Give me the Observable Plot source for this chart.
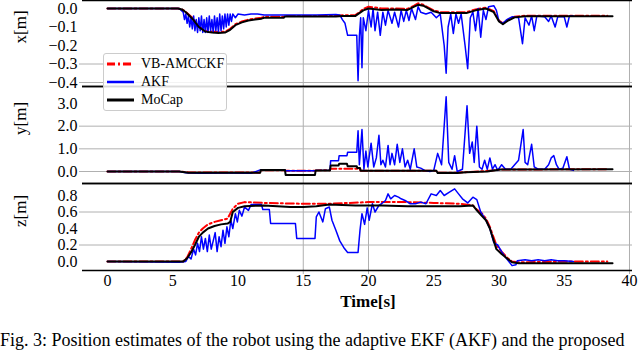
<!DOCTYPE html>
<html><head><meta charset="utf-8">
<script src="https://cdn.jsdelivr.net/npm/d3@7"></script>
<script src="https://cdn.jsdelivr.net/npm/@observablehq/plot@0.6"></script>
<style>
body{margin:0;background:#fff;}
#wrap{position:relative;width:640px;height:351px;overflow:hidden;font-family:"Liberation Serif",serif;color:#000;}
#wrap svg, #wrap svg text, #wrap svg g{font-family:"Liberation Serif",serif !important;}
.panel{position:absolute;left:0;}
#legend{position:absolute;left:103px;top:53px;width:122px;height:56px;border:1px solid #cccccc;border-radius:3px;background:rgba(255,255,255,0.85);}
#legend .row{position:absolute;left:3px;height:18px;display:flex;align-items:center;font-size:14px;white-space:nowrap;}
#legend svg{margin-right:7px;flex:none;}
#xlabel{position:absolute;left:0;width:736px;top:292px;text-align:center;font-weight:bold;font-size:17px;}
#caption{position:absolute;left:0;top:331px;white-space:nowrap;font-size:18px;line-height:18px;}
</style></head><body><div id="wrap"></div><script>
// ---------- data ----------
const seriesNames = ["VB-AMCCKF", "AKF", "MoCap"];
const xTicks = [0, 5, 10, 15, 20, 25, 30, 35, 40];
const gridX = [15, 20, 40];
const xLabel = "Time[s]";
const caption = "Fig. 3: Position estimates of the robot using the adaptive EKF (AKF) and the proposed";

// x [m]
const xPanelTicks = [0.0, -0.1, -0.2, -0.3, -0.4];
const xPanelGrid = [-0.3, -0.4];
const mocapX_t = [0, 5.4, 5.7, 6.0, 6.5, 7.0, 7.5, 8.0, 8.5, 9.0, 9.4, 9.8, 10.3, 10.8, 11.3, 11.8, 12.0, 13.5, 13.6, 17.5, 18.0, 19.0, 19.3, 19.6, 20.0, 21, 22, 23, 23.5, 23.8, 24.2, 25.0, 25.5, 27.5, 28.2, 29.0, 29.6, 30.0, 30.3, 30.7, 31.2, 32, 35, 38.7];
const mocapX_v = [0, 0, -0.005, -0.02, -0.055, -0.1, -0.125, -0.13, -0.132, -0.13, -0.115, -0.09, -0.075, -0.065, -0.06, -0.055, -0.05, -0.05, -0.043, -0.043, -0.04, -0.04, -0.025, -0.01, 0.0, -0.008, -0.006, -0.008, 0.01, 0.02, 0.015, -0.015, -0.025, -0.025, -0.01, 0.0, -0.02, -0.07, -0.085, -0.065, -0.048, -0.042, -0.042, -0.042];
const vbX_t = [0, 5.4, 5.7, 6.0, 6.5, 7.0, 7.5, 8.0, 8.5, 9.0, 9.4, 9.8, 10.3, 10.8, 11.3, 11.8, 12.0, 13.5, 13.6, 17.5, 18.0, 19.0, 19.3, 19.6, 20.0, 21, 22, 23, 23.5, 23.8, 24.2, 25.0, 25.5, 27.5, 28.2, 29.0, 29.6, 30.0, 30.3, 30.7, 31.2, 32, 35, 38.3];
const vbX_v = [0, 0, -0.004, -0.018, -0.05, -0.095, -0.12, -0.125, -0.127, -0.125, -0.11, -0.085, -0.07, -0.06, -0.055, -0.05, -0.045, -0.045, -0.04, -0.04, -0.036, -0.036, -0.02, -0.002, 0.01, 0.0, 0.0, -0.002, 0.015, 0.028, 0.02, -0.01, -0.02, -0.02, -0.005, 0.005, -0.015, -0.065, -0.08, -0.06, -0.044, -0.039, -0.039, -0.039];
const akfX_t = [0, 5.5, 5.8, 5.9, 6.0, 6.1, 6.2, 6.3, 6.4, 6.5, 6.6, 6.7, 6.8, 6.9, 7.0, 7.1, 7.2, 7.3, 7.4, 7.5, 7.6, 7.7, 7.8, 7.9, 8.0, 8.1, 8.2, 8.3, 8.4, 8.5, 8.6, 8.7, 8.8, 8.9, 9.0, 9.1, 9.2, 9.3, 9.4, 9.5, 9.6, 9.8, 10.0, 10.5, 11.0, 11.5, 12, 14, 16, 17.5, 17.8, 18.0, 18.2, 18.4, 19.1, 19.2, 19.3, 19.4, 19.5, 19.6, 19.8, 20.0, 20.2, 20.35, 20.5, 20.7, 20.9, 21.1, 21.3, 21.5, 21.8, 22.0, 22.3, 22.5, 22.7, 22.9, 23.1, 23.3, 23.6, 23.8, 24.0, 24.4, 24.8, 25.2, 25.5, 25.8, 25.95, 26.1, 26.3, 26.5, 26.7, 26.9, 27.1, 27.4, 27.6, 27.8, 28.0, 28.2, 28.4, 28.6, 28.8, 29.0, 29.2, 29.6, 29.8, 30.0, 30.3, 30.6, 31.0, 31.5, 31.8, 32.0, 32.3, 32.5, 32.7, 32.9, 33.5, 33.8, 34.0, 34.3, 34.5, 35.0, 35.2, 35.4, 35.7];
const akfX_v = [0, 0, -0.02, -0.06, -0.03, -0.08, -0.04, -0.1, -0.05, -0.11, -0.04, -0.12, -0.06, -0.13, -0.05, -0.12, -0.04, -0.13, -0.06, -0.13, -0.05, -0.13, -0.04, -0.12, -0.06, -0.13, -0.04, -0.12, -0.05, -0.13, -0.03, -0.12, -0.04, -0.11, -0.03, -0.1, -0.03, -0.09, -0.03, -0.07, -0.03, -0.05, -0.03, -0.035, -0.03, -0.03, -0.035, -0.035, -0.035, -0.033, -0.035, -0.06, -0.08, -0.145, -0.145, -0.39, -0.15, -0.05, -0.32, -0.05, -0.12, -0.01, -0.1, 0.0, -0.12, -0.02, -0.145, -0.02, -0.09, -0.01, -0.08, -0.02, -0.1, -0.01, -0.07, -0.01, -0.065, 0.0, -0.06, 0.01, -0.02, -0.03, -0.02, -0.05, -0.03, -0.2, -0.35, -0.1, -0.03, -0.135, -0.03, -0.08, -0.03, -0.2, -0.325, -0.05, -0.02, -0.12, 0.0, -0.155, -0.01, -0.06, 0.01, 0.015, -0.01, -0.07, -0.08, -0.06, -0.045, -0.05, -0.19, -0.05, -0.09, -0.04, -0.12, -0.04, -0.045, -0.07, -0.04, -0.1, -0.045, -0.045, -0.1, -0.04, -0.04];

// y [m]
const yPanelTicks = [0.0, 1.0, 2.0, 3.0];
const yPanelGrid = [0, 1, 2];
const mocapY_t = [0, 5.5, 6.2, 11.7, 11.75, 13.6, 13.65, 15.9, 15.95, 17.05, 17.1, 17.7, 17.75, 18.35, 18.4, 19.1, 19.15, 19.35, 19.4, 25.2, 25.3, 26.8, 27.5, 29.1, 30.1, 38.7];
const mocapY_v = [0, 0, -0.05, -0.06, 0.07, 0.07, -0.15, -0.15, 0.05, 0.05, 0.26, 0.26, 0.34, 0.34, 0.23, 0.23, 0.15, 0.15, 0.03, 0.03, -0.07, -0.07, -0.03, 0.0, 0.09, 0.1];
const vbY_t = [0, 5.5, 6.2, 11.7, 11.75, 13.6, 13.65, 15.9, 16.0, 17.05, 17.1, 19.3, 19.4, 25.2, 25.3, 26.8, 29.0, 30.1, 38.3];
const vbY_v = [0, 0, -0.04, -0.05, 0.06, 0.06, 0.03, 0.03, 0.05, 0.06, 0.12, 0.12, 0.03, 0.03, -0.05, -0.05, 0.02, 0.09, 0.1];
const akfY_t = [0, 5.5, 6, 7, 9, 11, 11.7, 13.6, 13.65, 15.9, 16.0, 17.05, 17.1, 17.7, 17.75, 18.35, 18.4, 19.1, 19.2, 19.3, 19.5, 19.65, 19.8, 19.95, 20.2, 20.4, 20.6, 20.8, 20.95, 21.1, 21.3, 21.5, 21.65, 21.8, 22.0, 22.2, 22.4, 22.6, 22.8, 23.0, 23.2, 23.5, 23.7, 24.0, 24.3, 24.7, 25.0, 25.3, 25.6, 25.95, 26.15, 26.4, 26.6, 26.8, 27.2, 27.55, 27.75, 27.95, 28.1, 28.3, 28.5, 28.7, 28.9, 29.1, 29.3, 29.5, 29.7, 29.9, 30.2, 30.5, 30.9, 31.2, 31.5, 31.85, 32.0, 32.2, 32.5, 32.7, 33.0, 33.5, 33.8, 34.0, 34.2, 34.4, 34.6, 34.9, 35.2, 35.4, 35.7];
const akfY_v = [0, 0, -0.05, -0.08, -0.07, -0.08, 0.07, 0.07, 0.03, 0.03, 0.05, 0.06, 0.48, 0.48, 0.7, 0.7, 0.85, 0.85, 1.8, 0.3, 1.85, 0.1, 0.9, 0.2, 1.25, 0.2, 0.6, 1.6, 0.3, 0.5, 0.2, 1.15, 0.3, 0.8, 0.3, 1.2, 0.4, 1.0, 0.2, 0.5, 0.1, 1.0, 0.2, 0.15, 0.05, 0.0, 0.05, 0.8, 0.3, 3.3, 0.4, 0.1, 0.7, 0.0, 0.1, 2.9, 0.8, 1.3, 0.4, 2.0, 0.2, 0.1, 0.5, 0.1, 0.6, 0.1, 0.3, 0.05, 0.3, 0.1, 0.1, 0.3, 0.5, 1.85, 0.4, 0.3, 1.2, 0.2, 0.1, 0.1, 0.3, 0.6, 0.7, 0.3, 0.1, 0.15, 0.65, 0.1, 0.05];

// z [m]
const zPanelTicks = [0.0, 0.2, 0.4, 0.6, 0.8];
const zPanelGrid = [0.2, 0.6];
const mocapZ_t = [0, 5.8, 6.1, 6.4, 6.7, 7.0, 7.3, 7.7, 8.2, 8.7, 9.2, 9.4, 9.6, 10.0, 10.5, 12, 14, 15, 16, 17, 19, 21, 23, 25, 27, 28.0, 28.3, 28.7, 29.0, 29.3, 29.5, 29.8, 30.2, 30.6, 31.0, 31.5, 35, 38.7];
const mocapZ_v = [0, 0, 0.04, 0.11, 0.2, 0.3, 0.35, 0.4, 0.43, 0.45, 0.46, 0.48, 0.6, 0.65, 0.67, 0.68, 0.66, 0.66, 0.67, 0.69, 0.68, 0.68, 0.67, 0.67, 0.67, 0.68, 0.62, 0.55, 0.5, 0.4, 0.3, 0.15, 0.09, 0.04, -0.01, -0.02, -0.02, -0.02];
const vbZ_t = [0, 5.8, 6.1, 6.4, 6.7, 7.0, 7.3, 7.7, 8.2, 8.7, 9.2, 9.6, 10.0, 10.5, 12, 15, 17, 20, 23, 25, 27, 28, 28.3, 28.7, 29.0, 29.3, 29.5, 29.8, 30.2, 30.6, 31.0, 31.5, 35, 38.3];
const vbZ_v = [0, 0, 0.05, 0.15, 0.26, 0.35, 0.4, 0.45, 0.48, 0.5, 0.52, 0.64, 0.7, 0.72, 0.71, 0.7, 0.7, 0.72, 0.72, 0.71, 0.7, 0.68, 0.63, 0.58, 0.52, 0.42, 0.33, 0.2, 0.12, 0.05, 0.0, -0.01, 0.0, 0.0];
const akfZ_t = [0, 5.5, 6.0, 6.2, 6.4, 6.6, 6.75, 6.9, 7.05, 7.2, 7.35, 7.5, 7.65, 7.8, 7.95, 8.1, 8.25, 8.4, 8.55, 8.7, 8.85, 9.0, 9.15, 9.3, 9.45, 9.6, 9.8, 9.95, 10.1, 10.3, 10.5, 10.8, 11.0, 11.8, 11.9, 12.4, 12.5, 14.4, 14.5, 15.9, 16.0, 16.2, 16.5, 16.7, 17.0, 17.2, 17.5, 17.8, 18.1, 18.4, 19.2, 19.35, 19.5, 19.7, 19.9, 20.05, 20.3, 20.5, 20.8, 21.0, 21.3, 21.5, 21.7, 22.0, 22.3, 22.5, 22.8, 23.2, 23.6, 24.0, 24.4, 24.8, 25.2, 25.5, 25.8, 26.2, 26.6, 26.9, 27.2, 27.6, 28.0, 28.3, 28.6, 29.0, 29.3, 29.6, 29.9, 30.2, 30.5, 30.8, 31.0, 31.3, 31.4, 32, 32.5, 33.0, 33.5, 34.0, 34.5, 35.0, 35.7];
const akfZ_v = [0, -0.01, 0.0, 0.06, 0.03, 0.15, 0.08, 0.22, 0.12, 0.3, 0.15, 0.28, 0.12, 0.32, 0.15, 0.25, 0.35, 0.12, 0.3, 0.18, 0.38, 0.22, 0.42, 0.3, 0.5, 0.4, 0.58, 0.48, 0.62, 0.55, 0.66, 0.62, 0.69, 0.69, 0.63, 0.63, 0.46, 0.46, 0.28, 0.28, 0.54, 0.6, 0.48, 0.64, 0.66, 0.5, 0.38, 0.25, 0.17, 0.11, 0.11, 0.38, 0.58, 0.45, 0.65, 0.5, 0.7, 0.6, 0.68, 0.7, 0.74, 0.82, 0.76, 0.8, 0.78, 0.76, 0.74, 0.7, 0.7, 0.72, 0.7, 0.82, 0.8, 0.86, 0.8, 0.84, 0.88, 0.82, 0.76, 0.71, 0.78, 0.75, 0.6, 0.5, 0.4, 0.23, 0.2, 0.12, 0.05, -0.01, -0.05, -0.04, 0.01, 0.02, 0.01, 0.02, 0.01, 0.02, 0.01, 0.01, 0.0];

// ---------- styles ----------
const colors = ["#ff0000", "#0000ff", "#000000"];
const widths = [2, 1.5, 2];
const dashes = ["8,3,2,3", null, null];
const xDomain = [-1.916, 40.23];
const FONT = "'Liberation Serif', serif";

const rows = (t, v) => t.map((d, i) => ({t: d, v: v[i]}));

function panel({top, height, mb, domain, ticks, grid, label, series, showX}) {
  const marks = [
    Plot.ruleX(gridX, {stroke: "#b0b0b0", strokeWidth: 1, insetBottom: showX ? -4 : 0}),
    Plot.ruleY(grid, {stroke: "#b0b0b0", strokeWidth: 1, insetLeft: -3}),
  ];
  series.forEach((s, i) => {
    const o = {x: "t", y: "v", stroke: colors[i], strokeWidth: widths[i], curve: "linear"};
    if (dashes[i]) o.strokeDasharray = dashes[i];
    marks.push(Plot.line(rows(s[0], s[1]), o));
  });
  marks.push(Plot.ruleY([domain[0], domain[1]], {stroke: "#000", strokeWidth: 1.5}));
  marks.push(Plot.text([label], {frameAnchor: "left", dx: -62, rotate: -90, fontSize: 17, fill: "#000", fontFamily: FONT}));
  const p = Plot.plot({
    width: 640, height, marginLeft: 82, marginRight: 8, marginTop: 0, marginBottom: mb,
    style: {background: "transparent", fontFamily: FONT, fontSize: "16px", color: "#000", overflow: "visible"},
    x: {domain: xDomain, axis: showX ? "bottom" : null, ticks: xTicks, tickSize: 0, tickPadding: 4, label: null, tickFormat: d => String(d)},
    y: {domain, ticks, tickSize: 0, tickPadding: 5, label: null, tickFormat: d3.format(".1f")},
    marks
  });
  p.querySelectorAll("text, g").forEach(el => {
    el.style.setProperty("font-family", "'Liberation Serif', serif", "important");
    el.style.setProperty("font-variant", "normal");
  });
  p.classList.add("panel");
  p.style.top = top + "px";
  return p;
}

const wrap = document.getElementById("wrap");
wrap.appendChild(panel({top: 0, height: 86, mb: 0, domain: [-0.4216, 0.0432], ticks: xPanelTicks, grid: xPanelGrid, label: "x[m]",
  series: [[vbX_t, vbX_v], [akfX_t, akfX_v], [mocapX_t, mocapX_v]], showX: false}));
wrap.appendChild(panel({top: 86, height: 97, mb: 0, domain: [-0.529, 3.75], ticks: yPanelTicks, grid: yPanelGrid, label: "y[m]",
  series: [[vbY_t, vbY_v], [akfY_t, akfY_v], [mocapY_t, mocapY_v]], showX: false}));
wrap.appendChild(panel({top: 183, height: 132, mb: 45, domain: [-0.109, 0.9455], ticks: zPanelTicks, grid: zPanelGrid, label: "z[m]",
  series: [[vbZ_t, vbZ_v], [akfZ_t, akfZ_v], [mocapZ_t, mocapZ_v]], showX: true}));

// legend
const leg = document.createElement("div");
leg.id = "legend";
seriesNames.forEach((name, i) => {
  const r = document.createElement("div");
  r.className = "row";
  r.style.top = (1 + i * 18) + "px";
  const dash = dashes[i] ? `stroke-dasharray="${dashes[i]}"` : "";
  r.innerHTML = `<svg width="27" height="8"><line x1="0" y1="4" x2="27" y2="4" stroke="${colors[i]}" stroke-width="${widths[i] + 1}" ${dash}/></svg><span>${name}</span>`;
  leg.appendChild(r);
});
wrap.appendChild(leg);

const xl = document.createElement("div");
xl.id = "xlabel"; xl.textContent = xLabel;
wrap.appendChild(xl);
const cap = document.createElement("div");
cap.id = "caption"; cap.textContent = caption;
wrap.appendChild(cap);
</script></body></html>
